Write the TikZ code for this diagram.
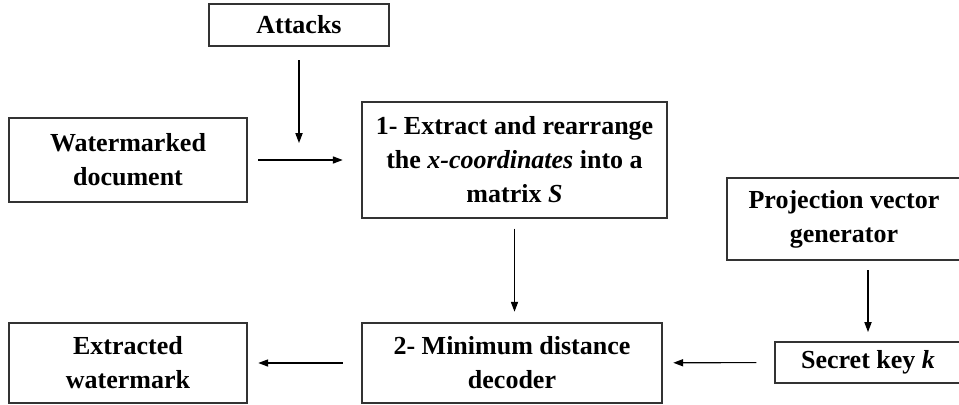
\documentclass[tikz,border=0pt]{standalone}
\usepackage{fontspec}
\setmainfont{Liberation Serif}
\usepackage{tikz}
\usetikzlibrary{arrows.meta,positioning,calc}
\definecolor{edge}{HTML}{333333}
\tikzset{
  >={Triangle[length=2.6mm,width=1.9mm]},
  box/.style={draw=edge,line width=1pt,inner sep=0pt,align=center,fill=white,
    font=\fontsize{19.5}{25.5}\selectfont\bfseries},
  arr/.style={->,draw=black,line width=0.8pt},
}
\begin{document}
\begin{tikzpicture}[x=0.75pt,y=-0.75pt,
  bx/.style={box,minimum width=178.5pt,minimum height=60pt}]
\useasboundingbox (0,0) rectangle (959,404);
\node[box,minimum width=135pt,minimum height=31.5pt] (atk) at (299,25) {Attacks};
\node[bx,minimum height=63pt] (wm) at (128,160) {Watermarked\\document};
\node[box,minimum width=228.75pt,minimum height=87pt] (ext) at (514.5,160) {1- Extract and rearrange\\the \textit{x-coordinates} into a\\matrix \textit{S}};
\node[box,minimum width=175.5pt,minimum height=61.5pt] (proj) at (844,219) {Projection vector\\generator};
\node[box,minimum width=225pt,minimum height=60pt] (dec) at (512,363) {2- Minimum distance\\decoder};
\node[bx] (wmk) at (128,363) {Extracted\\watermark};
\node[box,minimum width=139.5pt,minimum height=30.75pt] (key) at (868,362.5) {Secret key \textit{k}};
\coordinate (hit) at (299,143);
\draw[arr,shorten <=10pt] (atk) -- (hit);
\draw[arr,shorten <=8pt,shorten >=14pt] (wm) -- (ext);
\draw[arr,shorten <=7.5pt,shorten >=8pt] (ext.south) -- (ext.south |- dec.north);
\draw[arr,shorten <=7pt,shorten >=7pt] (proj.south -| key.north) -- (key.north);
\draw[arr,shorten <=13.5pt,shorten >=8pt] (key) -- (dec);
\draw[arr,shorten <=14pt,shorten >=8pt] (dec) -- (wmk);
\end{tikzpicture}
\end{document}
